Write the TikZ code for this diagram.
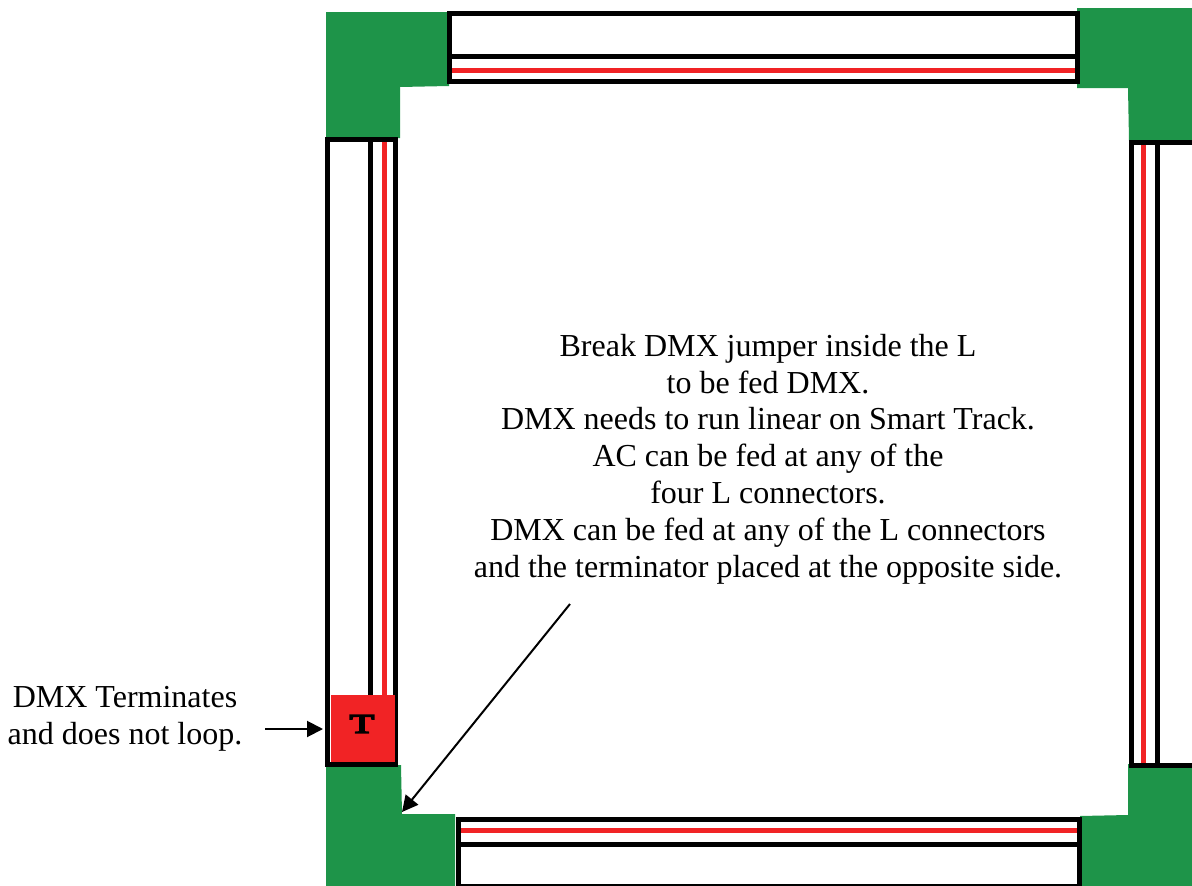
\documentclass[tikz,border=0pt]{standalone}
\usepackage{fontspec}
\setmainfont{Liberation Serif}
\newfontfamily\teefont[FakeBold=5]{Liberation Serif}
\usetikzlibrary{arrows.meta}
\definecolor{lgreen}{HTML}{1E9449}
\definecolor{trackred}{HTML}{F12325}
\begin{document}
\begin{tikzpicture}[x=1pt, y=-1pt, >={Triangle[length=16pt,width=16pt]},
  corner/.style={fill=lgreen},
  rail/.style={draw=black, line width=5pt},
  wire/.style={draw=trackred, line width=5.5pt},
  note/.style={align=center, inner sep=0pt, font=\fontsize{32}{36.8}\selectfont},
  lead/.style={->, line width=2pt}
]
  \useasboundingbox (0,0) rectangle (1192,886);
  % green L connectors
  \fill[corner] (326,12) -- (449,12) -- (449,86) -- (400,87) -- (400,138) -- (326,138) -- cycle;
  \fill[corner] (1077,8) -- (1192,8) -- (1192,141) -- (1129,141) -- (1128,88) -- (1077,88) -- cycle;
  \fill[corner] (326,765) -- (401,765) -- (402,814) -- (455,814) -- (455,886) -- (326,886) -- cycle;
  \fill[corner] (1128,764) -- (1192,764) -- (1192,886) -- (1080,886) -- (1080,816) -- (1128,815) -- cycle;
  % top track
  \draw[wire] (450,70.5) -- (1077,70.5);
  \draw[rail] (449.5,13.5) rectangle (1077,81.5);
  \draw[rail] (449.5,56) -- (1077,56);
  % left track
  \draw[wire] (384.5,140) -- (384.5,695);
  \draw[rail] (327.5,139.5) rectangle (395.5,764);
  \draw[rail] (370.5,139.5) -- (370.5,695);
  % right track
  \draw[wire] (1143.5,143) -- (1143.5,765);
  \draw[rail] (1192,142.5) -- (1131.5,142.5) -- (1131.5,765) -- (1192,765);
  \draw[rail] (1157,142.5) -- (1157,765);
  % bottom track
  \draw[wire] (459,830.5) -- (1079,830.5);
  \draw[rail] (458.5,819.5) rectangle (1079.5,886);
  \draw[rail] (458.5,844.5) -- (1079.5,844.5);
  % terminator
  \node[fill=trackred, minimum width=64pt, minimum height=67pt, inner sep=0pt] (term) at (363,728.5) {};
  \node[inner sep=0pt, xscale=1.5, font=\fontsize{27}{27}\selectfont\teefont] (tee) at (362,724) {T};
  % notes
  \node[note] (breaknote) at (768,459) {Break DMX jumper inside the L\\to be fed DMX.\\DMX needs to run linear on Smart Track.\\AC can be fed at any of the\\four L connectors.\\DMX can be fed at any of the L connectors\\and the terminator placed at the opposite side.};
  \node[note] (loopnote) at (125,718.5) {DMX Terminates\\and does not loop.};
  \coordinate (leadstart) at (570,604);
  \coordinate (leadend) at (402,812);
  \coordinate (loopstart) at (265,729);
  \coordinate (loopend) at (323,729);
  \draw[lead] (leadstart) -- (leadend);
  \draw[lead] (loopstart) -- (loopend);
\end{tikzpicture}
\end{document}
